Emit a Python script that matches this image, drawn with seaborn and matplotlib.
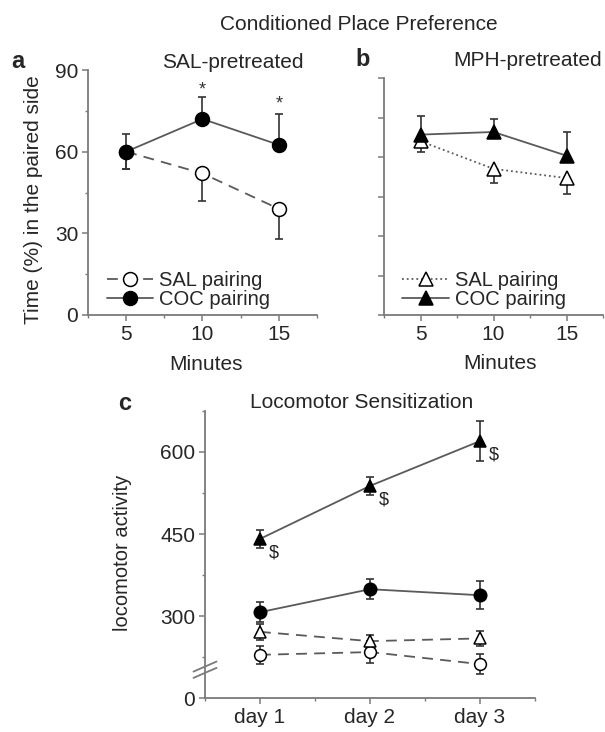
import numpy as np
import pandas as pd
import matplotlib
matplotlib.use("Agg")
import matplotlib.pyplot as plt
import seaborn as sns

# ---------------- data ----------------
minutes = [5, 10, 15]
# panel a (SAL-pretreated)
a_sal_mean = [60, 52, 39]
a_sal_err_lo = [6.5, 10, 11]
a_sal_err_hi = [0, 0, 0]
a_coc_mean = [60, 72, 62.5]
a_coc_err_lo = [6.5, 0, 0]
a_coc_err_hi = [6.5, 8, 11.5]
a_star_y = [82.5, 77.5]
a_star_x = [10, 15]
# panel b (MPH-pretreated)
b_sal_mean = [66, 55.5, 52]
b_sal_err_lo = [4, 5.5, 6]
b_sal_err_hi = [0, 0, 0]
b_coc_mean = [68.5, 69.5, 60.5]
b_coc_err_lo = [0, 0, 0]
b_coc_err_hi = [7, 5, 9]
# panel c (Locomotor sensitization)
days = [1, 2, 3]
day_labels = ["day 1", "day 2", "day 3"]
c_coc_tri = [441, 538, 620]
c_coc_tri_err = [16, 16, 36]
c_coc_circ = [307, 349, 338]
c_coc_circ_err = [18, 18, 26]
c_sal_tri = [271, 254, 259]
c_sal_tri_err = [14, 12, 14]
c_sal_circ = [229, 234, 212]
c_sal_circ_err = [17, 20, 18]
c_yticks = [150, 300, 450, 600]
c_yticklabels = ["0", "300", "450", "600"]

# ---------------- style ----------------
sns.set_style("ticks")
plt.rcParams["font.family"] = ["Liberation Sans", "DejaVu Sans"]
FS = 15
LINE_C = "#5a5a5a"
SPINE_C = "#7a7a7a"

fig = plt.figure(figsize=(6.05, 7.32), dpi=100)
W, H = 605.0, 732.0


def ax_at(l, t, r, b):
    return fig.add_axes([l / W, 1 - b / H, (r - l) / W, (b - t) / H])


def style_axes(ax):
    sns.despine(ax=ax)
    for s in ("left", "bottom"):
        ax.spines[s].set_color(SPINE_C)
        ax.spines[s].set_linewidth(1.3)
    ax.tick_params(which="major", length=4, width=1.1, color=SPINE_C,
                   labelsize=FS, pad=3)
    ax.tick_params(which="minor", length=2.5, width=1.0, color=SPINE_C)
    ax.patch.set_alpha(0)


def series(ax, x, y, lo, hi, marker, filled, ls, label, ms):
    ax.errorbar(x, y, yerr=[lo, hi], fmt="none", ecolor="#333333",
                elinewidth=1.2, capsize=3, capthick=1.2, zorder=2)
    df = pd.DataFrame({"x": x, "y": y})
    sns.lineplot(data=df, x="x", y="y", ax=ax, color=LINE_C, linestyle=ls,
                 linewidth=1.3, marker=marker, markersize=ms,
                 markerfacecolor="black" if filled else "white",
                 markeredgecolor="black", markeredgewidth=1.1,
                 label=label, zorder=3, legend=False)


LEG_KW = dict(loc="lower left", bbox_to_anchor=(0.02, -0.035), frameon=False,
              fontsize=FS - 0.5, handlelength=2.3, handletextpad=0.3,
              labelspacing=0.0, borderpad=0.2)

# ---------- panel a ----------
axa = ax_at(88, 70, 317, 315)
series(axa, minutes, a_sal_mean, a_sal_err_lo, a_sal_err_hi, "o", False,
       (0, (6, 4)), "SAL pairing", 10)
series(axa, minutes, a_coc_mean, a_coc_err_lo, a_coc_err_hi, "o", True,
       "-", "COC pairing", 10)
for xs, ys in zip(a_star_x, a_star_y):
    axa.text(xs, ys, "*", ha="center", va="center", fontsize=13, color="#333")
axa.set_xlim(2.5, 17.5)
axa.set_ylim(0, 90)
axa.set_xticks(minutes)
axa.set_xticks([2.5, 7.5, 12.5, 17.5], minor=True)
axa.set_yticks([0, 30, 60, 90])
axa.set_yticks([15, 45, 75], minor=True)
axa.set_xlabel("")
axa.set_ylabel("")
style_axes(axa)
axa.legend(**LEG_KW)

# ---------- panel b ----------
axb = ax_at(384, 78, 603, 315)
series(axb, minutes, b_sal_mean, b_sal_err_lo, b_sal_err_hi, "^", False,
       (0, (6, 4)), "SAL pairing", 10)
series(axb, minutes, b_coc_mean, b_coc_err_lo, b_coc_err_hi, "^", True,
       "-", "COC pairing", 10)
axb.set_xlim(2.5, 17.5)
axb.set_ylim(0, 90)
axb.set_xticks(minutes)
axb.set_xticks([2.5, 7.5, 12.5, 17.5], minor=True)
axb.set_yticks([0, 15, 30, 45, 60, 75, 90])
axb.set_yticklabels([])
axb.set_xlabel("")
axb.set_ylabel("")
style_axes(axb)
hb, lb = axb.get_legend_handles_labels()
hb[0].set_linestyle(":")
axb.legend(hb, lb, **LEG_KW)

# ---------- panel c ----------
axc = ax_at(205, 411, 535, 698)
series(axc, days, c_sal_circ, c_sal_circ_err, c_sal_circ_err, "o", False,
       (0, (6, 4)), "SAL circ", 8.5)
series(axc, days, c_sal_tri, c_sal_tri_err, c_sal_tri_err, "^", False,
       (0, (6, 4)), "SAL tri", 8.5)
series(axc, days, c_coc_circ, c_coc_circ_err, c_coc_circ_err, "o", True,
       "-", "COC circ", 9)
series(axc, days, c_coc_tri, c_coc_tri_err, c_coc_tri_err, "^", True,
       "-", "COC tri", 8)
for xd, yd in zip(days, c_coc_tri):
    axc.annotate("$", (xd, yd), xytext=(10, -10), textcoords="offset points",
                 ha="center", va="center", fontsize=13, color="#222",
                 parse_math=False)
axc.set_xlim(0.5, 3.5)
axc.set_ylim(150, 675)
axc.set_xticks(days)
axc.set_xticklabels(day_labels)
axc.set_xticks([0.5, 1.5, 2.5, 3.5], minor=True)
axc.set_yticks(c_yticks)
axc.set_yticklabels(c_yticklabels)
axc.set_yticks([225, 375, 525, 675], minor=True)
axc.set_xlabel("")
axc.set_ylabel("")
style_axes(axc)
# axis break marks
for dy in (0.0, 0.022):
    axc.plot([-0.035, 0.035], [0.07 + dy, 0.105 + dy], transform=axc.transAxes,
             color=SPINE_C, lw=1.3, clip_on=False, zorder=5)

# ---------- figure texts ----------
def ftext(x, y, s, **kw):
    fig.text(x / W, 1 - y / H, s, ha="center", va="center", **kw)

ftext(359, 25, "Conditioned Place Preference", fontsize=FS)
ftext(233, 62, "SAL-pretreated", fontsize=FS)
ftext(528, 61, "MPH-pretreated", fontsize=FS)
ftext(18, 62, "a", fontsize=FS + 2, fontweight="bold")
ftext(363, 60, "b", fontsize=FS + 2, fontweight="bold")
ftext(125, 403, "c", fontsize=FS + 2, fontweight="bold")
ftext(362, 403, "Locomotor Sensitization", fontsize=FS)
ftext(34, 200, "Time (%) in the paired side", fontsize=FS, rotation=90)
ftext(206, 364, "Minutes", fontsize=FS)
ftext(500, 363, "Minutes", fontsize=FS)
ftext(123, 553, "locomotor activity", fontsize=FS - 0.5, rotation=90)

fig.savefig("out.png", dpi=100)
